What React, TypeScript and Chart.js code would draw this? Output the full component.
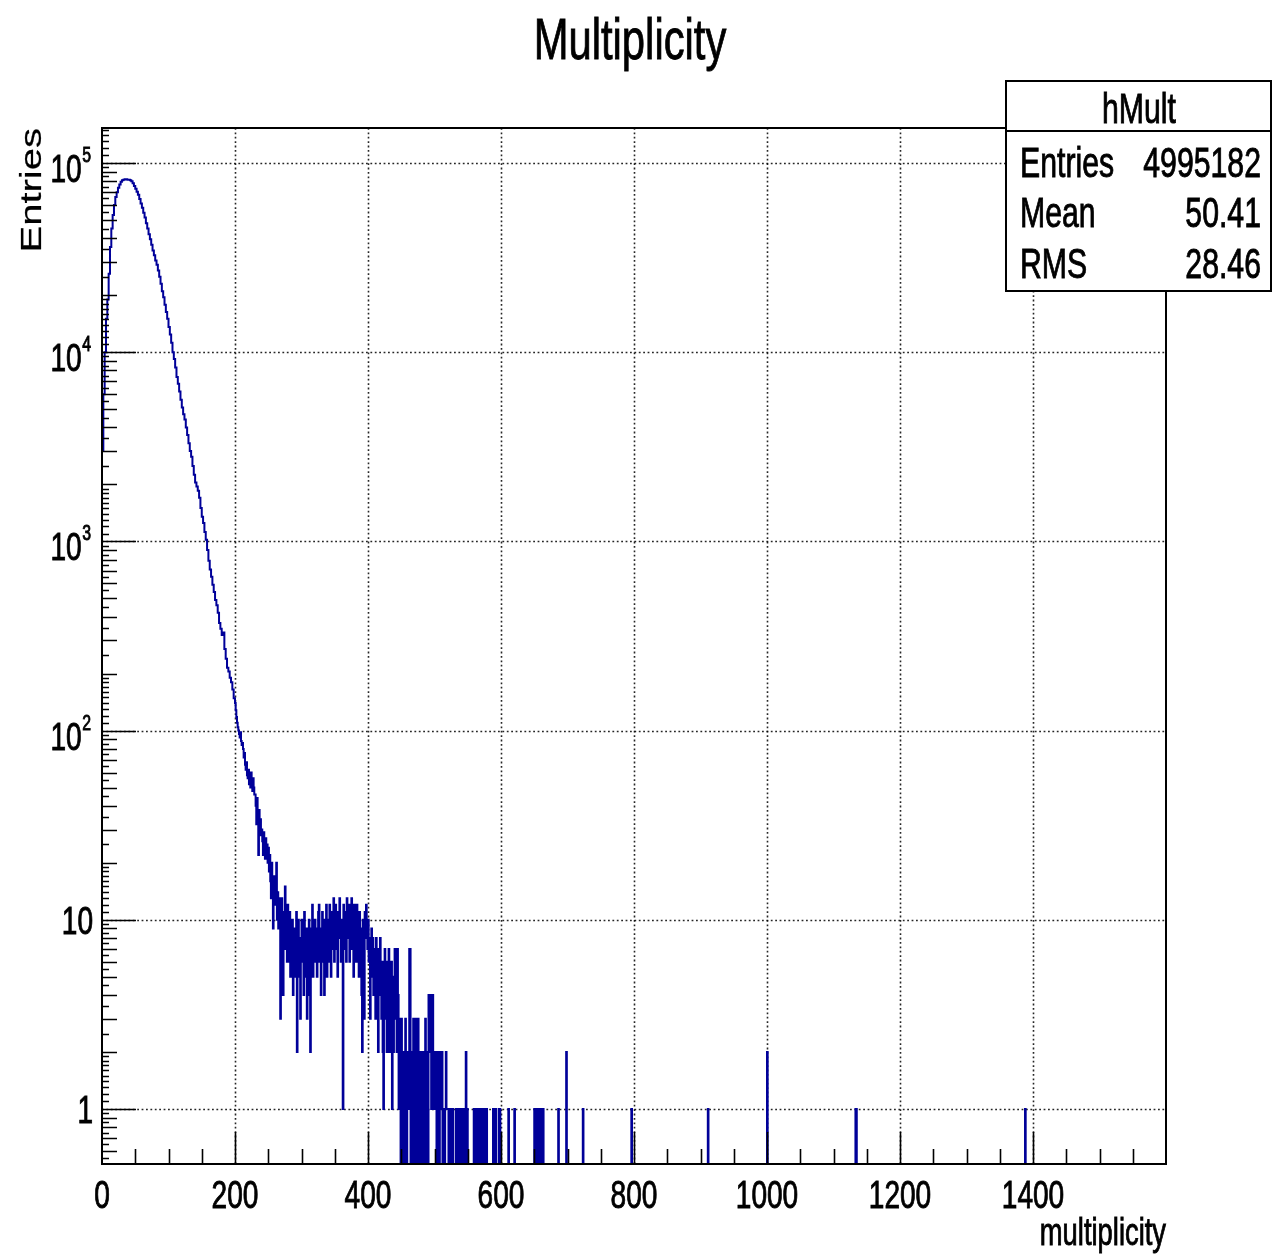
import React, { useEffect, useRef } from 'react';
import { Chart, registerables } from 'chart.js';

Chart.register(...registerables);

// ---------------- data ----------------
// Smooth body of the histogram: bins of width 2 starting at 0
const bodyStart = 0;
const bodyBinWidth = 2;
const bodyCounts = [
  3000, 6000, 10000, 15000, 19000, 26000, 36000, 45000, 53000, 60000,
  66000, 70000, 74000, 77000, 79500, 81000, 81500, 82000, 82000, 81500,
  81500, 81000, 80000, 78000, 75500, 73000, 70500, 68000, 64500, 61000,
  58000, 54500, 51500, 48000, 45000, 42000, 39500, 37000, 34500, 32500,
  30500, 29000, 27000, 25000, 23000, 21000, 19500, 17800, 16300, 15000,
  13600, 12400, 11200, 10000, 9200, 8300, 7400, 6800, 6200, 5600,
  5100, 4700, 4400, 4000, 3650, 3300, 3000, 2800, 2500, 2250,
  2050, 1950, 1850, 1700, 1500, 1350, 1250, 1120, 1020, 900,
  790, 710, 650, 590, 540, 490, 460, 420, 370, 345,
  320, 330, 270, 240, 215, 205, 190, 180, 165, 148,
];

// Noisy tail: bins of width 1 starting at 200
const tailStart = 200;
const tailCounts = [
  140, 128, 118, 110, 104, 100, 96, 92, 98, 88,
  84, 86, 80, 72, 76, 66, 62, 68, 58, 56,
  62, 52, 58, 50, 60, 54, 48, 56, 50, 46,
  46, 40, 32, 44, 36, 22, 38, 30, 34, 28,
  30, 26, 22, 29, 24, 21, 27, 23, 25, 20,
  24, 18, 22, 16, 13, 20, 15, 9, 17, 14,
  16, 12, 20, 10, 14, 9, 13, 11, 3, 8,
  13, 9, 4, 11, 7, 15, 8, 10, 6, 12,
  10, 6, 11, 5, 9, 7, 10, 4, 8, 6,
  9, 5, 11, 2, 7, 10, 5, 8, 3, 6,
  10, 6, 8, 4, 11, 7, 5, 9, 3, 8,
  6, 10, 4, 2, 9, 7, 12, 5, 8, 6,
  10, 7, 9, 5, 8, 11, 12, 6, 9, 4,
  8, 11, 6, 9, 4, 10, 7, 12, 5, 9,
  10, 6, 12, 8, 5, 11, 9, 7, 13, 6,
  9, 12, 7, 10, 5, 11, 8, 13, 9, 6,
  10, 8, 1, 12, 7, 11, 9, 6, 13, 10,
  8, 12, 6, 11, 9, 13, 7, 10, 5, 12,
  9, 11, 6, 12, 8, 10, 5, 11, 7, 9,
  4, 2, 10, 6, 3, 11, 8, 12, 9, 7,
  10, 6, 8, 3, 7, 9, 5, 8, 4, 7,
  6, 3, 8, 5, 7, 2, 6, 4, 8, 5,
  3, 6, 2, 1, 5, 7, 3, 4, 2, 6,
  4, 7, 2, 5, 3, 6, 1, 4, 2, 5,
  7, 3, 6, 2, 7, 4, 1, 3, 2, 0,
  3, 0, 2, 1, 2, 0, 3, 1, 0, 2,
  2, 1, 7, 7, 0, 2, 1, 0, 3, 1,
  3, 0, 3, 2, 0, 3, 1, 0, 2, 1,
  0, 2, 1, 0, 1, 2, 3, 0, 1, 2,
  0, 4, 4, 2, 4, 1, 4, 4, 2, 1,
  2, 1, 2, 0, 1, 2, 1, 0, 2, 1,
  1, 2, 0, 1, 1, 0, 1, 2, 1, 1,
  1, 0, 1, 1, 0, 1, 0, 1, 0, 0,
  0, 0, 1, 0, 1, 1, 0, 1, 0, 1,
  0, 1, 0, 1, 1, 0, 1, 2, 0, 1,
  0, 0, 0, 0, 0, 0, 0, 0, 0, 1,
  0, 1, 0, 1, 1, 0, 1, 0, 1, 0,
  1, 0, 1, 1, 0, 1, 0, 1, 1, 0,
  0, 0, 0, 0, 0, 0, 0, 0, 1, 0,
  1, 0, 1, 0, 0, 0, 0, 1, 1, 0,
];

// Sparse far tail: isolated bins (width 1)
const spikeBins = [611, 620, 650, 652, 654, 657, 660, 663, 686, 698, 723, 796, 911, 1000, 1133, 1134, 1388];
const spikeCounts = [1, 1, 1, 1, 1, 1, 1, 1, 1, 2, 1, 1, 1, 2, 1, 1, 1];

const xMin = 0;
const xMax = 1600;
const yMin = 0.512;
const yMax = 153000;

const xTickValues = [0, 200, 400, 600, 800, 1000, 1200, 1400];
const xTickLabels = ['0', '200', '400', '600', '800', '1000', '1200', '1400'];
const yTickValues = [1, 10, 100, 1000, 10000, 100000];
const yTickBase = ['1', '10', '10', '10', '10', '10'];
const yTickExp = ['', '', '2', '3', '4', '5'];

const titleText = 'Multiplicity';
const xAxisTitle = 'multiplicity';
const yAxisTitle = 'Entries';
const statsName = 'hMult';
const statsLabels = ['Entries', 'Mean', 'RMS'];
const statsValues = ['4995182', '50.41', '28.46'];

// ---------------- helpers ----------------
const FONT = '"Liberation Sans", Arial, Helvetica, sans-serif';
const SX = 0.72;

// empty bins are drawn at the bottom of the frame (as ROOT does on a log axis)
const floorY = (c: number) => (c > 0 ? c : yMin);

function buildPoints() {
  const pts: { x: number; y: number }[] = [{ x: xMin, y: floorY(0) }];
  bodyCounts.forEach((c, i) => pts.push({ x: bodyStart + i * bodyBinWidth, y: floorY(c) }));
  tailCounts.forEach((c, i) => pts.push({ x: tailStart + i, y: floorY(c) }));
  pts.push({ x: tailStart + tailCounts.length, y: floorY(0) });
  spikeBins.forEach((b, i) => {
    pts.push({ x: b, y: floorY(spikeCounts[i]) });
    if (spikeBins[i + 1] !== b + 1) pts.push({ x: b + 1, y: floorY(0) });
  });
  pts.push({ x: xMax, y: floorY(0) });
  return pts;
}

function txt(ctx: CanvasRenderingContext2D, s: string, x: number, y: number, size: number, align: CanvasTextAlign) {
  ctx.save();
  ctx.translate(x, y);
  ctx.scale(SX, 1);
  ctx.font = `${size}px ${FONT}`;
  ctx.textAlign = align;
  ctx.textBaseline = 'alphabetic';
  ctx.fillStyle = '#000';
  ctx.strokeStyle = '#000';
  ctx.lineWidth = 0.9;
  ctx.fillText(s, 0, 0);
  ctx.strokeText(s, 0, 0);
  ctx.restore();
}

function textWidth(ctx: CanvasRenderingContext2D, s: string, size: number) {
  ctx.save();
  ctx.font = `${size}px ${FONT}`;
  const w = ctx.measureText(s).width * SX;
  ctx.restore();
  return w;
}

const rootDecor = {
  id: 'rootDecor',
  beforeDraw(chart: any) {
    const ctx = chart.ctx;
    ctx.save();
    ctx.fillStyle = '#fff';
    ctx.fillRect(0, 0, chart.width, chart.height);
    ctx.restore();
  },
  beforeDatasetsDraw(chart: any) {
    const { ctx, chartArea: a } = chart;
    const xs = chart.scales.x;
    const ys = chart.scales.y;
    ctx.save();
    ctx.strokeStyle = 'rgba(0,0,0,0.85)';
    ctx.lineWidth = 1.6;
    ctx.setLineDash([1.8, 2.6]);
    yTickValues.forEach((v) => {
      const y = Math.round(ys.getPixelForValue(v)) + 0.5;
      ctx.beginPath();
      ctx.moveTo(a.left, y);
      ctx.lineTo(a.right, y);
      ctx.stroke();
    });
    xTickValues.forEach((v) => {
      if (v <= xMin) return;
      const x = Math.round(xs.getPixelForValue(v)) + 0.5;
      ctx.beginPath();
      ctx.moveTo(x, a.top);
      ctx.lineTo(x, a.bottom);
      ctx.stroke();
    });
    ctx.restore();
  },
  afterDatasetsDraw(chart: any) {
    const { ctx, chartArea: a } = chart;
    const xs = chart.scales.x;
    const ys = chart.scales.y;
    ctx.save();
    ctx.strokeStyle = '#000';
    ctx.lineWidth = 2;
    ctx.setLineDash([]);
    ctx.strokeRect(a.left, a.top, a.right - a.left, a.bottom - a.top);

    // x ticks
    ctx.lineWidth = 1.6;
    ctx.beginPath();
    for (let v = 50; v < xMax; v += 50) {
      const x = Math.round(xs.getPixelForValue(v)) + 0.5;
      const len = v % 200 === 0 ? 32 : 15;
      ctx.moveTo(x, a.bottom);
      ctx.lineTo(x, a.bottom - len);
    }
    ctx.stroke();

    // y ticks
    ctx.beginPath();
    for (let e = -1; e <= 5; e++) {
      const dec = Math.pow(10, e);
      for (let k = 1; k <= 9; k++) {
        const v = k * dec;
        if (v >= yMin && v <= yMax) {
          const y = Math.round(ys.getPixelForValue(v)) + 0.5;
          const len = k === 1 ? 34 : 15;
          ctx.moveTo(a.left, y);
          ctx.lineTo(a.left + len, y);
        }
      }
      const tert = [1.1, 1.2, 1.3, 1.4, 1.5, 1.6, 1.7, 1.8, 1.9, 2.5, 3.5, 4.5, 5.5, 6.5, 7.5, 8.5, 9.5];
      tert.forEach((k) => {
        const v = k * dec;
        if (v >= yMin && v <= yMax) {
          const y = Math.round(ys.getPixelForValue(v)) + 0.5;
          ctx.moveTo(a.left, y);
          ctx.lineTo(a.left + 7, y);
        }
      });
    }
    ctx.stroke();
    ctx.restore();

    // x tick labels
    xTickValues.forEach((v, i) => {
      txt(ctx, xTickLabels[i], xs.getPixelForValue(v), 1208, 39, 'center');
    });

    // y tick labels
    yTickValues.forEach((v, i) => {
      const y = ys.getPixelForValue(v);
      if (yTickExp[i]) {
        const ew = textWidth(ctx, yTickExp[i], 22);
        txt(ctx, yTickExp[i], 91, y - 1, 22, 'right');
        txt(ctx, yTickBase[i], 91 - ew - 0.5, y + 19, 39, 'right');
      } else {
        txt(ctx, yTickBase[i], 93, y + 14, 39, 'right');
      }
    });

    // title
    txt(ctx, titleText, 630, 59, 58, 'center');

    // x axis title
    txt(ctx, xAxisTitle, a.right, 1245, 38, 'right');

    // y axis title (rotated)
    ctx.save();
    ctx.translate(41, a.top);
    ctx.rotate(-Math.PI / 2);
    ctx.scale(1, 0.76);
    ctx.font = `40px ${FONT}`;
    ctx.textAlign = 'right';
    ctx.textBaseline = 'alphabetic';
    ctx.fillStyle = '#000';
    ctx.strokeStyle = '#000';
    ctx.lineWidth = 0.3;
    ctx.fillText(yAxisTitle, 0, 0);
    ctx.strokeText(yAxisTitle, 0, 0);
    ctx.restore();

    // stats box
    ctx.save();
    ctx.fillStyle = '#fff';
    ctx.fillRect(1006, 81, 265, 210);
    ctx.strokeStyle = '#000';
    ctx.lineWidth = 2;
    ctx.strokeRect(1006, 81, 265, 210);
    ctx.beginPath();
    ctx.moveTo(1006, 131);
    ctx.lineTo(1271, 131);
    ctx.stroke();
    ctx.restore();
    txt(ctx, statsName, 1139, 123, 42, 'center');
    const rowBase = [177, 227, 278];
    statsLabels.forEach((lab, i) => {
      txt(ctx, lab, 1020, rowBase[i], 42, 'left');
      txt(ctx, statsValues[i], 1261, rowBase[i], 42, 'right');
    });
  },
};

export default function App() {
  const ref = useRef<HTMLCanvasElement | null>(null);
  useEffect(() => {
    if (!ref.current) return;
    const chart = new Chart(ref.current, {
      type: 'line',
      data: {
        datasets: [
          {
            data: buildPoints(),
            borderColor: '#000099',
            borderWidth: 2,
            pointRadius: 0,
            stepped: true,
            fill: false,
            tension: 0,
          } as any,
        ],
      },
      options: {
        animation: false,
        responsive: false,
        devicePixelRatio: 1,
        events: [],
        layout: { padding: { left: 102, top: 128, right: 106, bottom: 93 } },
        plugins: {
          legend: { display: false },
          tooltip: { enabled: false },
          title: { display: false },
        },
        scales: {
          x: { type: 'linear', min: xMin, max: xMax, display: false },
          y: { type: 'logarithmic', min: yMin, max: yMax, display: false },
        },
      } as any,
      plugins: [rootDecor as any],
    });
    return () => chart.destroy();
  }, []);
  return (
    <div style={{ position: 'absolute', left: 0, top: 0, width: 1272, height: 1257, background: '#fff' }}>
      <canvas ref={ref} width={1272} height={1257} style={{ width: 1272, height: 1257, display: 'block' }} />
    </div>
  );
}
